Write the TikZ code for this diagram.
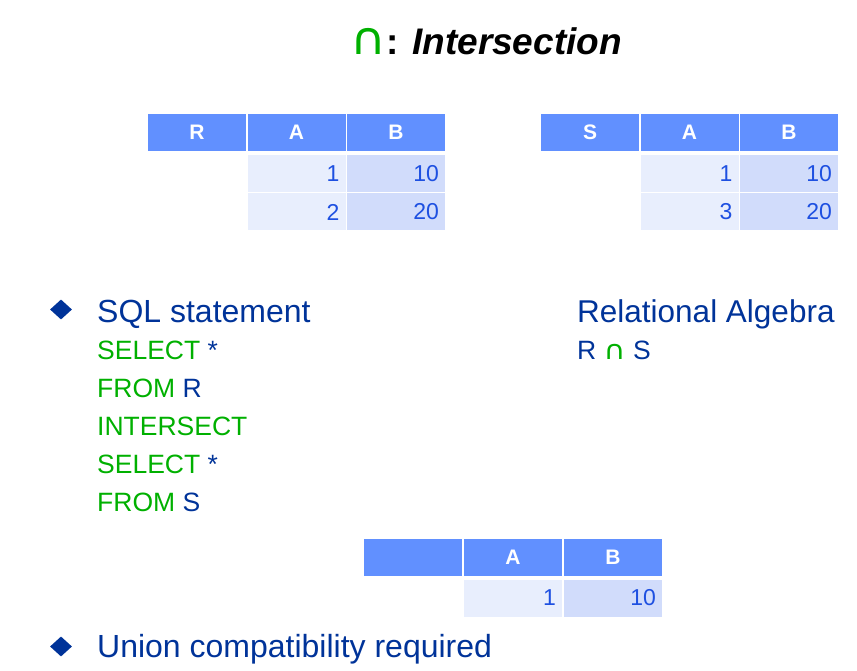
\documentclass[tikz,border=0pt]{standalone}
\usepackage{fontspec}
\setmainfont{Liberation Sans}
\newfontfamily\symfont{DejaVu Sans}
\usepackage{graphicx}
\usepackage{tikz}
\usetikzlibrary{shapes.geometric,positioning}
\definecolor{headblue}{RGB}{97,144,255}
\definecolor{cellA}{RGB}{232,238,253}
\definecolor{cellB}{RGB}{209,220,251}
\definecolor{numblue}{RGB}{30,80,225}
\definecolor{darkblue}{RGB}{0,51,153}
\definecolor{sqlgreen}{RGB}{0,176,0}

\begin{document}
\begin{tikzpicture}[x=1pt,y=-1pt,
 head/.style={fill=headblue,minimum width=98pt,minimum height=37pt,inner sep=0pt,text=white,font=\fontsize{21}{21}\selectfont\bfseries},
 cell/.style={minimum height=37pt,inner ysep=0pt,inner xsep=6pt,text width=86pt,align=right,text=numblue,font=\fontsize{23}{23}\selectfont},
 bullet/.style={diamond,fill=darkblue,inner sep=0pt,minimum width=22pt,minimum height=20pt},
 txt/.style={anchor=base west,inner sep=0pt,text=darkblue,font=\fontsize{32}{32}\selectfont},
 sql/.style={anchor=base west,inner sep=0pt,text=sqlgreen,font=\fontsize{26.5}{26.5}\selectfont}]
\useasboundingbox (0,0) rectangle (857,671);
% title
\node[anchor=base west,inner sep=0pt,font=\fontsize{37}{37}\selectfont] (title) at (350,55) {\textcolor{sqlgreen}{\scalebox{1.2}[1.1]{\symfont\fontsize{41}{41}\selectfont ∩}}\textbf{: \textit{Intersection}}};
% table R
\node[head] (rR) at (197,132.5) {R};
\node[head] (rA) at (296.5,132.5) {A};
\node[head] (rB) at (396,132.5) {B};
\foreach \a/\b/\y [count=\i] in {1/10/173.5,2/20/212}{
  \node[cell,fill=cellA] (rA\i) at (296.5,\y) {\a};
  \node[cell,fill=cellB] (rB\i) at (396,\y) {\b};
}
% table S
\node[head] (sS) at (590,132.5) {S};
\node[head] (sA) at (689.5,132.5) {A};
\node[head] (sB) at (789,132.5) {B};
\foreach \a/\b/\y [count=\i] in {1/10/173.5,3/20/212}{
  \node[cell,fill=cellA] (sA\i) at (689.5,\y) {\a};
  \node[cell,fill=cellB] (sB\i) at (789,\y) {\b};
}
% SQL statement
\node[bullet] (b1) at (61,309.5) {};
\node[txt] (sqltitle) at (97,322) {SQL statement};
\node[sql] (q1) at (97,359) {SELECT \textcolor{darkblue}{*}};
\node[sql] (q2) at (97,397) {FROM \textcolor{darkblue}{R}};
\node[sql] (q3) at (97,435) {INTERSECT};
\node[sql] (q4) at (97,473) {SELECT \textcolor{darkblue}{*}};
\node[sql] (q5) at (97,511) {FROM \textcolor{darkblue}{S}};
% relational algebra
\node[txt,font=\fontsize{31.5}{31.5}\selectfont] (ratitle) at (577,322) {Relational Algebra};
\node[sql,text=darkblue] (ra) at (577,359) {R \textcolor{sqlgreen}{\scalebox{1.2}[1.05]{\symfont\fontsize{25}{25}\selectfont ∩}} S};
% result
\node[head] (tX) at (413,557.5) {};
\node[head] (tA) at (513,557.5) {A};
\node[head] (tB) at (613,557.5) {B};
\node[cell,fill=cellA] (tA1) at (513,598) {1};
\node[cell,fill=cellB] (tB1) at (613,598) {10};
% union
\node[bullet] (b2) at (61,646.5) {};
\node[txt] (union) at (97,657) {Union compatibility required};
\end{tikzpicture}
\end{document}
